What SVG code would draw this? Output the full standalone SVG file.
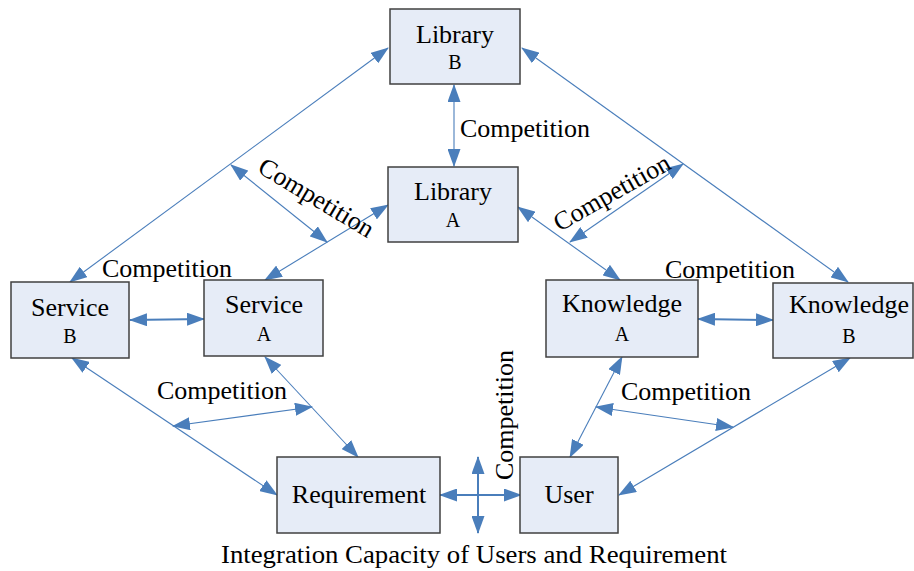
<svg xmlns="http://www.w3.org/2000/svg" width="914" height="571" viewBox="0 0 914 571">
<defs>
<marker id="ah" viewBox="0 0 18 13" refX="17" refY="6.5" markerWidth="18" markerHeight="13" markerUnits="userSpaceOnUse" orient="auto-start-reverse">
<path d="M0,0 L18,6.5 L0,13 z" fill="#4a7ebb"/>
</marker>
</defs>
<style>
.box{fill:#e6ecf7;stroke:#404040;stroke-width:1.5}
.t{font-family:"Liberation Serif","Times New Roman",serif;font-size:26px;fill:#000}
.s{font-family:"Liberation Serif","Times New Roman",serif;font-size:20px;fill:#000}
.c{stroke:#4a7ebb;stroke-width:1.1;fill:none;marker-start:url(#ah);marker-end:url(#ah)}
.w{stroke-width:2}
</style>
<rect width="914" height="571" fill="#fff"/>
<g id="connectors">
<line class="c" x1="454" y1="85" x2="454" y2="166"/>
<line class="c" x1="70" y1="282" x2="388" y2="48"/>
<line class="c" x1="522" y1="48" x2="848" y2="282"/>
<line class="c" x1="265" y1="280" x2="388" y2="205"/>
<line class="c" x1="518" y1="207" x2="620" y2="280"/>
<line class="c" x1="231" y1="165" x2="327" y2="242"/>
<line class="c" x1="683" y1="164" x2="570" y2="242"/>
<line class="c w" x1="130" y1="320" x2="204" y2="319"/>
<line class="c w" x1="698" y1="319" x2="773" y2="320"/>
<line class="c" x1="72" y1="358" x2="277" y2="495"/>
<line class="c" x1="265" y1="357" x2="358" y2="457"/>
<line class="c" x1="173" y1="426" x2="312" y2="407"/>
<line class="c" x1="622" y1="357" x2="570" y2="457"/>
<line class="c" x1="850" y1="358" x2="619" y2="495"/>
<line class="c" x1="596" y1="407" x2="733" y2="427"/>
<line class="c w" x1="440" y1="495" x2="521" y2="495"/>
<line class="c w" x1="478" y1="457" x2="478" y2="533"/>
</g>
<g id="labels">
<text class="t" x="460" y="137">Competition</text>
<text class="t" x="312" y="205" text-anchor="middle" transform="rotate(31 312 205)">Competition</text>
<text class="t" x="616" y="200" text-anchor="middle" transform="rotate(-29.5 616 200)">Competition</text>
<text class="t" x="102" y="277">Competition</text>
<text class="t" x="665" y="278">Competition</text>
<text class="t" x="157" y="399">Competition</text>
<text class="t" x="621" y="400">Competition</text>
<text class="t" x="513" y="415" text-anchor="middle" transform="rotate(-90 513 415)">Competition</text>
<text class="t" x="221" y="563" textLength="506" lengthAdjust="spacingAndGlyphs">Integration Capacity of Users and Requirement</text>
</g>
<g id="libraryB">
<rect class="box" x="390" y="9" width="130" height="75"/>
<text class="t" x="455" y="43" text-anchor="middle">Library</text>
<text class="s" x="455" y="69" text-anchor="middle">B</text>
</g>
<g id="libraryA">
<rect class="box" x="388" y="167" width="130" height="75"/>
<text class="t" x="453" y="200" text-anchor="middle">Library</text>
<text class="s" x="453" y="227" text-anchor="middle">A</text>
</g>
<g id="serviceB">
<rect class="box" x="11" y="282" width="118" height="76"/>
<text class="t" x="70" y="316" text-anchor="middle">Service</text>
<text class="s" x="70" y="343" text-anchor="middle">B</text>
</g>
<g id="serviceA">
<rect class="box" x="204" y="280" width="119" height="76"/>
<text class="t" x="264" y="313" text-anchor="middle">Service</text>
<text class="s" x="264" y="341" text-anchor="middle">A</text>
</g>
<g id="knowledgeA">
<rect class="box" x="546" y="280" width="152" height="77"/>
<text class="t" x="622" y="312" text-anchor="middle">Knowledge</text>
<text class="s" x="622" y="341" text-anchor="middle">A</text>
</g>
<g id="knowledgeB">
<rect class="box" x="773" y="283" width="140" height="75"/>
<text class="t" x="849" y="313" text-anchor="middle">Knowledge</text>
<text class="s" x="849" y="343" text-anchor="middle">B</text>
</g>
<g id="requirement">
<rect class="box" x="277" y="457" width="163" height="76"/>
<text class="t" x="359" y="503" text-anchor="middle">Requirement</text>
</g>
<g id="user">
<rect class="box" x="520" y="457" width="98" height="76"/>
<text class="t" x="569" y="503" text-anchor="middle">User</text>
</g>
</svg>
